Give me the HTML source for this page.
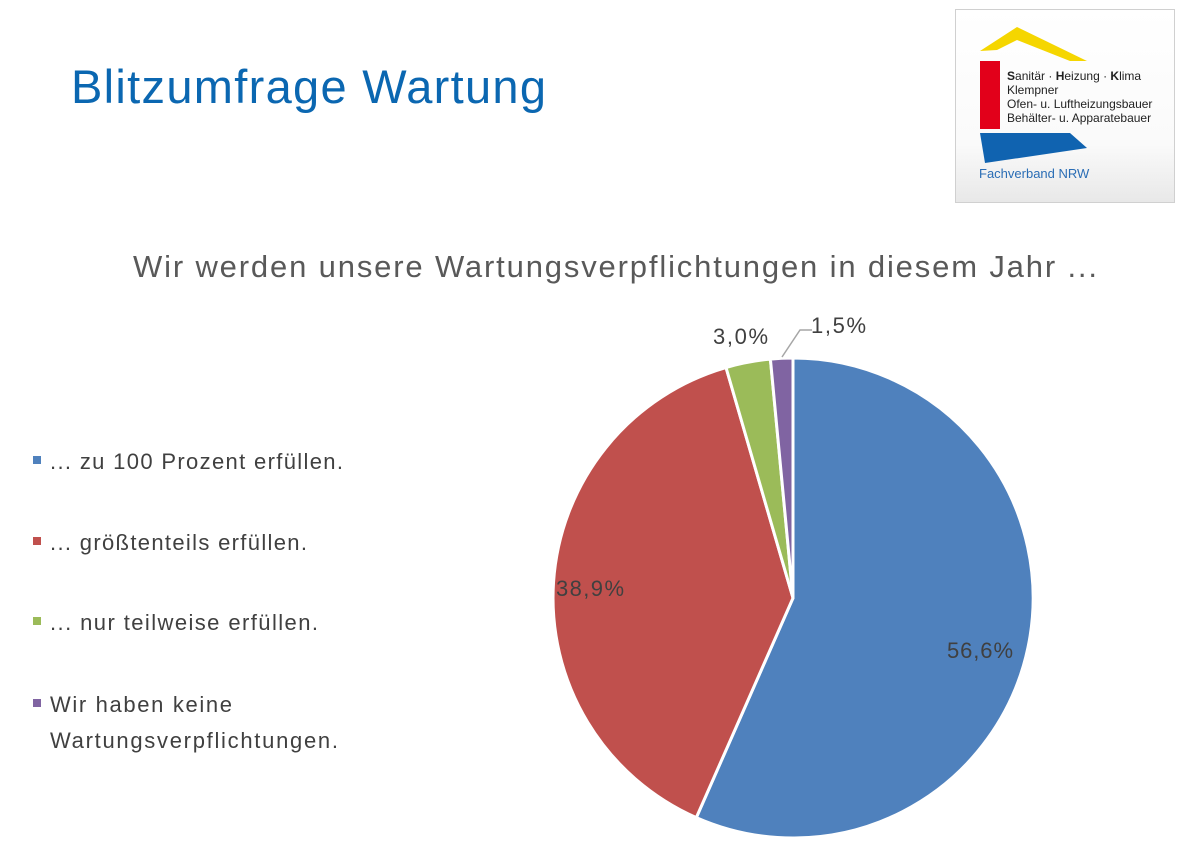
<!DOCTYPE html>
<html><head><meta charset="utf-8"><style>
body{margin:0;width:1200px;height:861px;background:#fff;overflow:hidden;font-family:"Liberation Sans",sans-serif}
</style></head><body>
<svg width="1200" height="861" xmlns="http://www.w3.org/2000/svg" font-family="Liberation Sans, sans-serif">
<text x="71" y="103" font-size="47" fill="#0b67b1" textLength="475">Blitzumfrage Wartung</text>
<defs><linearGradient id="g" x1="0" y1="0" x2="0" y2="1"><stop offset="0" stop-color="#fff"/><stop offset="0.7" stop-color="#fafafa"/><stop offset="1" stop-color="#e8e8e8"/></linearGradient></defs>
<rect x="955.5" y="9.5" width="219" height="193" fill="url(#g)" stroke="#d0d0d0"/>
<polygon points="980,51 1017,27 1087,61 1070,61 1017,40 997,50" fill="#f5d600"/>
<rect x="980" y="61" width="20" height="68" fill="#e2001a"/>
<polygon points="980,133 1070,133 1087,148 985,163" fill="#1063b0"/>
<g font-size="12" fill="#222">
<text x="1007" y="80"><tspan font-weight="bold">S</tspan>anitär · <tspan font-weight="bold">H</tspan>eizung · <tspan font-weight="bold">K</tspan>lima</text>
<text x="1007" y="94">Klempner</text>
<text x="1007" y="108">Ofen- u. Luftheizungsbauer</text>
<text x="1007" y="122">Behälter- u. Apparatebauer</text>
</g>
<text x="979" y="178" font-size="13" fill="#2a6db5">Fachverband NRW</text>
<text x="615" y="277" font-size="31" fill="#595959" text-anchor="middle" textLength="964">Wir werden unsere Wartungsverpflichtungen in diesem Jahr ...</text>
<g font-size="22" fill="#404040">
<rect x="33" y="456" width="8" height="8" fill="#4f81bd"/><text x="50" y="469" textLength="293">... zu 100 Prozent erfüllen.</text>
<rect x="33" y="537" width="8" height="8" fill="#c0504d"/><text x="50" y="550" textLength="257">... größtenteils erfüllen.</text>
<rect x="33" y="617" width="8" height="8" fill="#9bbb59"/><text x="50" y="630" textLength="268">... nur teilweise erfüllen.</text>
<rect x="33" y="699" width="8" height="8" fill="#8064a2"/><text x="50" y="712" textLength="182">Wir haben keine</text>
<text x="50" y="748" textLength="288">Wartungsverpflichtungen.</text>
</g>
<g stroke="#fff" stroke-width="3" stroke-linejoin="round">
<path d="M793,598 L793,358 A240,240 0 1 1 696.3,817.6 Z" fill="#4f81bd"/>
<path d="M793,598 L696.3,817.6 A240,240 0 0 1 726,367.5 Z" fill="#c0504d"/>
<path d="M793,598 L726,367.5 A240,240 0 0 1 770.4,359.1 Z" fill="#9bbb59"/>
<path d="M793,598 L770.4,359.1 A240,240 0 0 1 793,358 Z" fill="#8064a2"/>
</g>
<polyline points="782,357 800,330 812,330" fill="none" stroke="#a6a6a6" stroke-width="1.5"/>
<g font-size="22" fill="#404040">
<text x="947" y="658" textLength="66">56,6%</text>
<text x="556" y="596" textLength="68">38,9%</text>
<text x="713" y="344" textLength="55">3,0%</text>
<text x="811" y="333" textLength="55">1,5%</text>
</g>
</svg>
</body></html>
